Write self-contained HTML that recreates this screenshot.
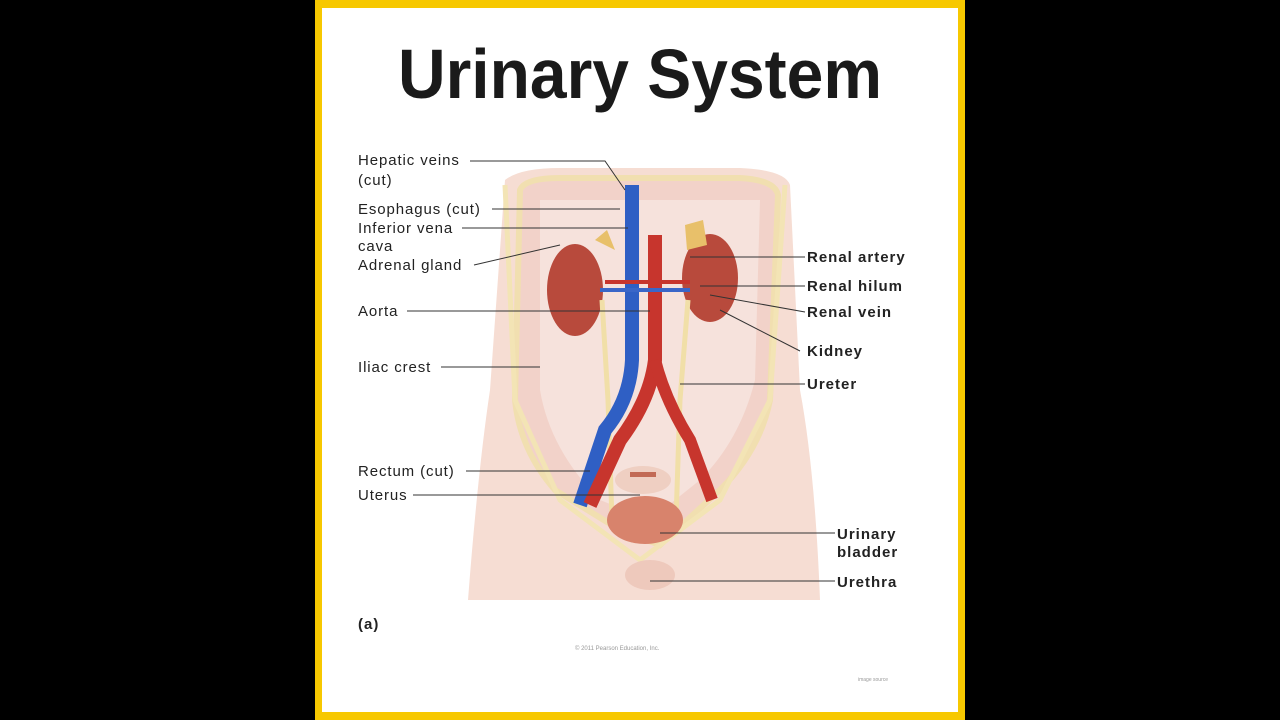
<!DOCTYPE html>
<html><head><meta charset="utf-8"><style>
html,body{margin:0;padding:0;background:#000;width:1280px;height:720px;overflow:hidden}
</style></head><body>
<svg width="1280" height="720" viewBox="0 0 1280 720" xmlns="http://www.w3.org/2000/svg" font-family="Liberation Sans, sans-serif">
<rect x="0" y="0" width="1280" height="720" fill="#000"/>
<rect x="315" y="0" width="650" height="720" fill="#f7c800"/>
<rect x="322" y="8" width="636" height="704" fill="#fff"/>
<text x="398" y="98" font-size="70" font-weight="bold" fill="#1a1a1a" textLength="484" lengthAdjust="spacingAndGlyphs">Urinary System</text>

<!-- torso -->
<path d="M505 180 Q520 168 560 168 L740 168 Q785 170 790 185 L800 390 Q815 470 820 600 L468 600 Q478 470 490 390 Z" fill="#f6ddd3"/>
<path d="M520 190 Q525 178 560 178 L740 178 Q775 180 778 195 L770 400 Q760 450 720 490 L660 545 L620 530 L555 490 Q520 450 515 400 Z" fill="#f2d2c9" stroke="#f1dfb0" stroke-width="6"/>
<path d="M540 200 L760 200 L755 380 Q740 440 700 480 L650 520 L600 500 Q550 450 540 390 Z" fill="#f6e2dc"/>
<path d="M505 185 L515 400 L560 500 L640 560 L720 500 L770 400 L785 185" fill="none" stroke="#f3e4b5" stroke-width="5"/>
<ellipse cx="650" cy="575" rx="25" ry="15" fill="#eec9bc"/>
<!-- kidneys -->
<ellipse cx="575" cy="290" rx="28" ry="46" fill="#b84a3c"/>
<ellipse cx="710" cy="278" rx="28" ry="44" fill="#b84a3c"/>
<path d="M595 240 l12 -10 8 20 z" fill="#e8c06a"/>
<path d="M685 225 l18 -5 4 25 -20 5z" fill="#e8c06a"/>
<!-- ureters -->
<path d="M602 300 L608 400 L612 520" fill="none" stroke="#f1dfa8" stroke-width="5"/>
<path d="M688 300 L680 400 L676 520" fill="none" stroke="#f1dfa8" stroke-width="5"/>
<!-- vena cava -->
<path d="M632 185 L632 360 Q630 400 605 430 L580 505" fill="none" stroke="#2f5fc4" stroke-width="14"/>
<!-- aorta -->
<path d="M655 235 L655 360 Q650 400 620 440 L590 505" fill="none" stroke="#c7352d" stroke-width="14"/>
<path d="M655 360 Q665 400 690 440 L712 500" fill="none" stroke="#c7352d" stroke-width="12"/>
<path d="M600 290 L690 290" stroke="#3a66c8" stroke-width="4"/>
<path d="M605 282 L690 282" stroke="#c7352d" stroke-width="4"/>
<!-- bladder -->
<ellipse cx="645" cy="520" rx="38" ry="24" fill="#d8836c"/>
<ellipse cx="643" cy="480" rx="28" ry="14" fill="#efcfc2"/>
<rect x="630" y="472" width="26" height="5" fill="#c26a55"/>

<g stroke="#333" stroke-width="1" fill="none">
<path d="M470 161 L605 161 L625 190"/><path d="M492 209 L620 209"/><path d="M462 228 L628 228"/>
<path d="M474 265 L560 245"/><path d="M407 311 L650 311"/><path d="M441 367 L540 367"/>
<path d="M466 471 L590 471"/><path d="M413 495 L640 495"/>
<path d="M805 257 L690 257"/><path d="M805 286 L700 286"/><path d="M805 312 L710 295"/>
<path d="M800 351 L720 310"/><path d="M805 384 L680 384"/><path d="M835 533 L660 533"/><path d="M835 581 L650 581"/>
</g>
<g font-size="15" fill="#222" letter-spacing="0.9">
<text x="358" y="165">Hepatic veins</text><text x="358" y="185">(cut)</text>
<text x="358" y="214">Esophagus (cut)</text><text x="358" y="233">Inferior vena</text><text x="358" y="251">cava</text>
<text x="358" y="270">Adrenal gland</text><text x="358" y="316">Aorta</text><text x="358" y="372">Iliac crest</text>
<text x="358" y="476">Rectum (cut)</text><text x="358" y="500">Uterus</text>
</g>
<g font-size="15" font-weight="bold" fill="#222" letter-spacing="1">
<text x="807" y="262">Renal artery</text><text x="807" y="291">Renal hilum</text><text x="807" y="317">Renal vein</text>
<text x="807" y="356">Kidney</text><text x="807" y="389">Ureter</text>
<text x="837" y="539">Urinary</text><text x="837" y="557">bladder</text><text x="837" y="587">Urethra</text>
<text x="358" y="629">(a)</text>
</g>
<text x="575" y="650" font-size="6" fill="#999">© 2011 Pearson Education, Inc.</text>
<text x="858" y="681" font-size="5" fill="#999">image source</text>
</svg>
</body></html>
